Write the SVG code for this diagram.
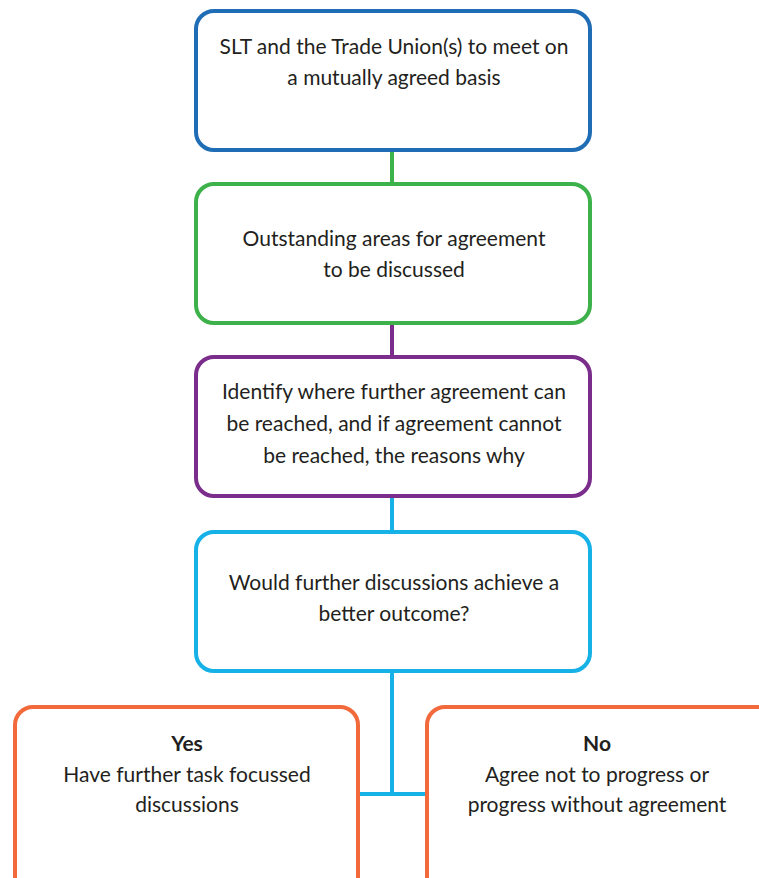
<svg xmlns="http://www.w3.org/2000/svg" width="759" height="878" viewBox="0 0 759 878">
<style>
.b{fill:#fff;stroke-width:4}
.t{font-family:Lato,"Open Sans","Liberation Sans",sans-serif;font-size:21px;fill:#231f20;text-anchor:middle}
.bold{font-weight:bold}
</style>
<rect width="759" height="878" fill="#fff"/>
<g id="connectors" fill="none" stroke-width="4">
<line x1="392" y1="150" x2="392" y2="184" stroke="#3db14a"/>
<line x1="392" y1="323" x2="392" y2="357" stroke="#7b2d8b"/>
<line x1="392" y1="496" x2="392" y2="531" stroke="#16b1e6"/>
<polyline points="392,671 392,794" stroke="#16b1e6"/>
<line x1="358" y1="794" x2="426" y2="794" stroke="#16b1e6"/>
</g>
<g id="n1">
<rect class="b" x="196" y="11" width="394" height="139" rx="18" stroke="#1f6db5"/>
<text class="t" x="394" y="54">SLT and the Trade Union(s) to meet on</text>
<text class="t" x="394" y="85">a mutually agreed basis</text>
</g>
<g id="n2">
<rect class="b" x="196" y="184" width="394" height="139" rx="18" stroke="#3db14a"/>
<text class="t" x="394" y="246">Outstanding areas for agreement</text>
<text class="t" x="394" y="277">to be discussed</text>
</g>
<g id="n3">
<rect class="b" x="196" y="357" width="394" height="139" rx="18" stroke="#7b2d8b"/>
<text class="t" x="394" y="399">Identify where further agreement can</text>
<text class="t" x="394" y="431">be reached, and if agreement cannot</text>
<text class="t" x="394" y="463">be reached, the reasons why</text>
</g>
<g id="n4">
<rect class="b" x="196" y="532" width="394" height="139" rx="18" stroke="#16b1e6"/>
<text class="t" x="394" y="590">Would further discussions achieve a</text>
<text class="t" x="394" y="621">better outcome?</text>
</g>
<g id="n5">
<rect class="b" x="15" y="707" width="343" height="190" rx="18" stroke="#f26a3b"/>
<text class="t bold" x="187" y="751">Yes</text>
<text class="t" x="187" y="782">Have further task focussed</text>
<text class="t" x="187" y="812">discussions</text>
</g>
<g id="n6">
<rect class="b" x="427" y="707" width="360" height="190" rx="18" stroke="#f26a3b"/>
<text class="t bold" x="597" y="751">No</text>
<text class="t" x="597" y="782">Agree not to progress or</text>
<text class="t" x="597" y="812">progress without agreement</text>
</g>
</svg>
